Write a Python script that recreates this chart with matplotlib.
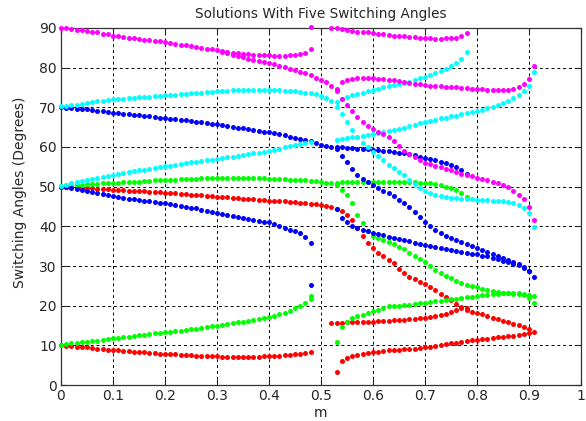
import numpy as np
import matplotlib
matplotlib.use("Agg")
import matplotlib.pyplot as plt

plt.rcParams['font.family'] = ['DejaVu Sans']

STEP = 0.01

# each branch: first m value, then angles (deg) read at every 0.01 of m
red_a_start = 0.00
red_a = [10.0, 9.9, 9.8, 9.7, 9.6, 9.5, 9.3, 9.2, 9.1, 8.9,
         8.8, 8.7, 8.6, 8.5, 8.4, 8.3, 8.2, 8.1, 8.0, 7.9,
         7.8, 7.7, 7.7, 7.6, 7.5, 7.5, 7.4, 7.3, 7.3, 7.2,
         7.2, 7.1, 7.1, 7.1, 7.1, 7.1, 7.1, 7.1, 7.1, 7.2,
         7.2, 7.3, 7.4, 7.5, 7.6, 7.7, 7.8, 8.0, 8.2]
red_b_start = 0.00
red_b = [50.0, 49.9, 49.9, 49.8, 49.7, 49.6, 49.6, 49.5, 49.4, 49.3,
         49.2, 49.2, 49.1, 49.0, 48.9, 48.9, 48.8, 48.7, 48.7, 48.6,
         48.5, 48.4, 48.3, 48.2, 48.1, 48.0, 47.9, 47.8, 47.7, 47.6,
         47.5, 47.4, 47.3, 47.2, 47.1, 47.0, 46.9, 46.8, 46.7, 46.6,
         46.5, 46.4, 46.4, 46.3, 46.2, 46.1, 46.0, 45.8, 45.7, 45.6,
         45.4, 45.2, 44.9, 44.4, 43.8, 42.9, 41.5, 39.6, 37.5, 35.9,
         34.6, 33.3, 32.4, 31.6, 30.7, 29.3, 28.2, 27.3, 26.6, 26.0,
         25.5, 24.8, 23.9, 23.0, 22.2, 21.4, 20.5, 19.7, 19.0, 18.5,
         18.2, 17.8, 17.4, 17.0, 16.6, 16.2, 15.9, 15.5, 15.1, 14.6,
         14.0]
red_c_start = 0.52
red_c = [15.7, 15.7, 15.7, 15.8, 15.8, 15.9, 15.9, 16.0,
         16.0, 16.1, 16.1, 16.2, 16.3, 16.4, 16.5, 16.6, 16.7, 16.8,
         17.0, 17.2, 17.4, 17.7, 18.0, 18.4, 18.8, 19.3, 19.5]
red_d_start = 0.53
red_d = [3.2, 6.1, 6.9, 7.3, 7.6, 7.8, 8.0,
         8.2, 8.4, 8.5, 8.7, 8.8, 8.9, 9.0, 9.1, 9.2, 9.3,
         9.5, 9.7, 9.9, 10.1, 10.3, 10.5, 10.7, 10.9, 11.1, 11.3,
         11.4, 11.6, 11.7, 11.9, 12.0, 12.1, 12.3, 12.4, 12.6, 12.8,
         13.0, 13.3]

green_a_start = 0.00
green_a = [10.2, 10.3, 10.5, 10.6, 10.8, 10.9, 11.1, 11.2, 11.4, 11.6,
           11.8, 11.9, 12.1, 12.2, 12.4, 12.5, 12.7, 12.8, 13.0, 13.1,
           13.3, 13.4, 13.6, 13.7, 13.9, 14.1, 14.2, 14.4, 14.6, 14.8,
           15.0, 15.2, 15.4, 15.6, 15.8, 16.0, 16.2, 16.5, 16.7, 17.0,
           17.2, 17.5, 17.8, 18.1, 18.7, 19.3, 19.9, 20.6, 21.7]
green_b_start = 0.00
green_b = [50.2, 50.3, 50.4, 50.4, 50.5, 50.6, 50.7, 50.7, 50.8, 50.9,
           50.9, 51.0, 51.1, 51.2, 51.3, 51.3, 51.4, 51.5, 51.6, 51.7,
           51.7, 51.8, 51.8, 51.9, 51.9, 52.0, 52.0, 52.1, 52.1, 52.1,
           52.2, 52.2, 52.2, 52.2, 52.2, 52.2, 52.2, 52.2, 52.1, 52.1,
           52.0, 52.0, 51.9, 51.9, 51.8, 51.8, 51.7, 51.6, 51.5, 51.4,
           51.2, 51.0, 50.8, 51.0, 51.2, 51.3, 51.3, 51.3, 51.3, 51.3,
           51.3, 51.3, 51.3, 51.3, 51.3, 51.3, 51.3, 51.2, 51.2, 51.0,
           50.9, 50.8, 50.6, 50.4, 50.0, 49.6, 49.1, 48.4, 47.4]
green_c_start = 0.53
green_c = [50.3, 49.2, 48.0, 45.9, 42.9, 40.8, 38.7,
           37.6, 37.1, 36.6, 36.1, 35.5, 34.9, 34.2, 33.4, 32.6, 31.7,
           30.9, 29.9, 29.0, 28.3, 27.6, 26.9, 26.3, 25.8, 25.3, 24.9,
           24.6, 24.3, 24.0, 23.8, 23.5, 23.3, 23.1, 23.0, 22.9, 22.8,
           22.6, 22.5]
green_d_start = 0.53
green_d = [10.9, 14.7, 16.0, 16.9, 17.3, 17.7, 18.2,
           18.6, 19.0, 19.4, 19.8, 19.9, 20.0, 20.1, 20.2, 20.4, 20.6,
           20.7, 20.9, 21.1, 21.3, 21.4, 21.6, 21.7, 21.9, 22.1, 22.3,
           22.5, 22.7, 22.8, 22.9, 23.0, 23.1, 23.1, 23.1, 23.1, 22.9,
           22.0, 20.6]

blue_a_start = 0.00
blue_a = [70.0, 69.9, 69.8, 69.7, 69.6, 69.5, 69.3, 69.2, 69.0, 68.8,
          68.6, 68.5, 68.4, 68.2, 68.1, 68.0, 67.8, 67.7, 67.5, 67.4,
          67.3, 67.1, 67.0, 66.8, 66.7, 66.5, 66.3, 66.2, 66.0, 65.8,
          65.7, 65.5, 65.3, 65.1, 64.9, 64.7, 64.5, 64.3, 64.1, 63.9,
          63.7, 63.5, 63.2, 62.9, 62.6, 62.3, 62.0, 61.7, 61.4, 61.0,
          60.6, 60.3, 60.1, 60.0, 59.9, 59.8, 59.7, 59.6, 59.5, 59.4,
          59.3, 59.2, 59.1, 58.9, 58.8, 58.6, 58.4, 58.2, 57.9, 57.6,
          57.3, 57.0, 56.7, 56.3, 55.9, 55.5, 55.0, 54.3, 53.3]
blue_b_start = 0.00
blue_b = [50.0, 49.8, 49.6, 49.4, 49.1, 48.9, 48.6, 48.4, 48.1, 47.9,
          47.6, 47.4, 47.2, 47.0, 46.8, 46.7, 46.5, 46.4, 46.2, 46.0,
          45.9, 45.7, 45.5, 45.2, 45.0, 44.7, 44.5, 44.2, 43.9, 43.6,
          43.3, 43.1, 42.9, 42.6, 42.4, 42.1, 41.9, 41.6, 41.4, 41.2,
          41.0, 40.6, 40.2, 39.7, 39.1, 38.7, 38.2, 37.4, 35.9]
blue_c_start = 0.53
blue_c = [59.6, 57.8, 56.2, 54.5, 53.0, 52.0, 51.1,
          50.4, 49.7, 49.0, 48.3, 47.6, 46.7, 45.8, 44.8, 43.6, 42.4,
          41.2, 40.1, 39.2, 38.4, 37.6, 37.0, 36.5, 36.0, 35.5, 35.0,
          34.5, 34.0, 33.6, 33.1, 32.6, 32.1, 31.6, 31.0, 30.4, 29.7,
          28.8]
blue_d_start = 0.53
blue_d = [44.3, 42.2, 41.0, 40.1, 39.6, 39.2, 38.8,
          38.4, 38.1, 37.8, 37.4, 37.1, 36.8, 36.5, 36.2, 35.9, 35.6,
          35.3, 35.1, 34.8, 34.5, 34.3, 34.0, 33.8, 33.5, 33.3, 33.1,
          32.9, 32.6, 32.4, 32.1, 31.7, 31.3, 31.0, 30.6, 30.2, 29.6,
          28.7, 27.3]

cyan_a_start = 0.00
cyan_a = [70.3, 70.4, 70.6, 70.7, 70.9, 71.1, 71.3, 71.5, 71.7, 71.8,
          72.0, 72.1, 72.2, 72.3, 72.4, 72.5, 72.6, 72.7, 72.8, 72.9,
          73.0, 73.1, 73.2, 73.3, 73.4, 73.5, 73.6, 73.7, 73.8, 73.9,
          74.0, 74.1, 74.2, 74.3, 74.3, 74.4, 74.4, 74.4, 74.4, 74.4,
          74.4, 74.3, 74.3, 74.2, 74.1, 74.0, 73.9, 73.7, 73.6, 73.3,
          72.9, 72.4, 71.6, 71.3, 72.1, 72.6, 73.0, 73.4, 73.7, 74.1,
          74.4, 74.7, 75.0, 75.3, 75.6, 75.9, 76.2, 76.5, 76.9, 77.3,
          77.7, 78.1, 78.6, 79.1, 79.7, 80.4, 81.2, 82.3, 83.9]
cyan_b_start = 0.00
cyan_b = [50.2, 50.5, 50.8, 51.1, 51.4, 51.7, 52.0, 52.3, 52.5, 52.8,
          53.0, 53.3, 53.5, 53.7, 53.9, 54.1, 54.3, 54.5, 54.7, 54.9,
          55.1, 55.3, 55.5, 55.7, 55.9, 56.1, 56.3, 56.5, 56.6, 56.8,
          57.0, 57.2, 57.4, 57.6, 57.8, 58.0, 58.2, 58.4, 58.6, 58.8,
          59.0, 59.3, 59.6, 59.9, 60.2, 60.5, 60.7, 61.0, 61.2]
cyan_c_start = 0.53
cyan_c = [61.8, 62.0, 62.2, 62.4, 62.6, 62.8, 63.0,
          63.3, 63.5, 63.7, 64.0, 64.3, 64.6, 64.9, 65.3, 65.6, 66.0,
          66.3, 66.6, 66.9, 67.2, 67.4, 67.7, 67.9, 68.2, 68.5, 68.8,
          69.1, 69.4, 69.8, 70.2, 70.7, 71.1, 71.6, 72.3, 73.2, 74.2,
          75.5, 78.8]
cyan_d_start = 0.53
cyan_d = [70.0, 68.3, 66.2, 64.2, 62.4, 61.0, 59.9,
          58.8, 57.7, 56.6, 55.5, 54.6, 53.8, 52.9, 51.8, 50.6, 49.6,
          48.8, 48.3, 48.0, 47.6, 47.4, 47.2, 47.1, 47.0, 46.9, 46.8,
          46.7, 46.6, 46.6, 46.5, 46.4, 46.3, 46.2, 46.0, 45.5, 44.6,
          43.3, 39.8]

magenta_a_start = 0.00
magenta_a = [90.0, 89.9, 89.7, 89.6, 89.5, 89.3, 89.1, 88.9, 88.6, 88.4,
             88.1, 88.0, 87.8, 87.6, 87.5, 87.3, 87.1, 86.9, 86.8, 86.6,
             86.4, 86.2, 86.0, 85.8, 85.6, 85.4, 85.2, 85.0, 84.8, 84.6,
             84.4, 84.2, 84.0, 83.8, 83.7, 83.5, 83.4, 83.3, 83.2, 83.1,
             83.1, 83.0, 83.0, 83.0, 83.1, 83.2, 83.4, 83.8, 84.6]
magenta_b_start = 0.31
magenta_b = [84.0, 83.6, 83.3, 82.9, 82.6, 82.3, 82.0, 81.8, 81.5,
             81.2, 80.9, 80.5, 80.1, 79.7, 79.3, 79.0, 78.6, 78.1, 77.5,
             76.9, 76.3, 75.4, 74.2, 72.2, 70.7, 69.0, 67.5, 66.4, 65.4,
             64.5, 63.9, 63.3, 62.5, 61.5, 60.3, 59.0, 58.2, 57.4, 56.7,
             56.0, 55.7, 55.3, 54.9, 54.5, 54.1, 53.7, 53.3, 53.0, 52.6,
             52.3, 52.0, 51.6, 51.3, 50.9, 50.4, 49.8, 49.0, 48.0, 47.0,
             45.0, 41.7]
magenta_c_start = 0.53
magenta_c = [74.5, 76.3, 76.9, 77.2, 77.3, 77.3, 77.3,
             77.3, 77.2, 77.1, 77.0, 76.8, 76.6, 76.4, 76.2, 76.0, 75.8,
             75.7, 75.5, 75.4, 75.3, 75.2, 75.1, 75.0, 74.9, 74.8, 74.7,
             74.6, 74.5, 74.4, 74.4, 74.3, 74.3, 74.4, 74.6, 75.1, 76.0,
             77.2, 80.4]
magenta_d_start = 0.52
magenta_d = [90.0, 89.9, 89.7, 89.5, 89.3, 89.1, 89.0, 88.9,
             88.7, 88.6, 88.5, 88.3, 88.1, 88.0, 87.9, 87.8, 87.7, 87.6,
             87.5, 87.4, 87.3, 87.3, 87.4, 87.5, 87.6, 87.9, 88.7]

# loose points at the end of the first solution set (m = 0.48)
extra_m = [0.48, 0.48, 0.48]
extra_deg = [22.4, 25.1, 90.2]
extra_col = ['#00ff00', '#0000ff', '#ff00ff']

xtick_vals = [0, 0.1, 0.2, 0.3, 0.4, 0.5, 0.6, 0.7, 0.8, 0.9, 1]
xtick_labels = ['0', '0.1', '0.2', '0.3', '0.4', '0.5', '0.6', '0.7', '0.8', '0.9', '1']
ytick_vals = [0, 10, 20, 30, 40, 50, 60, 70, 80, 90]

branches = [
    ('#ff0000', red_a_start, red_a), ('#ff0000', red_b_start, red_b),
    ('#ff0000', red_c_start, red_c), ('#ff0000', red_d_start, red_d),
    ('#00ff00', green_a_start, green_a), ('#00ff00', green_b_start, green_b),
    ('#00ff00', green_c_start, green_c), ('#00ff00', green_d_start, green_d),
    ('#0000ff', blue_a_start, blue_a), ('#0000ff', blue_b_start, blue_b),
    ('#0000ff', blue_c_start, blue_c), ('#0000ff', blue_d_start, blue_d),
    ('#00ffff', cyan_a_start, cyan_a), ('#00ffff', cyan_b_start, cyan_b),
    ('#00ffff', cyan_c_start, cyan_c), ('#00ffff', cyan_d_start, cyan_d),
    ('#ff00ff', magenta_a_start, magenta_a), ('#ff00ff', magenta_b_start, magenta_b),
    ('#ff00ff', magenta_c_start, magenta_c), ('#ff00ff', magenta_d_start, magenta_d),
]


def m_axis(start, vals):
    return start + STEP * np.arange(len(vals))


fig = plt.figure(figsize=(5.86, 4.21), dpi=100)
ax = fig.add_axes([0.104, 0.0855, 0.8875, 0.848])

for col, start, vals in branches:
    ax.plot(m_axis(start, vals), vals, 'o', color=col, markersize=3.6,
            markeredgewidth=0, clip_on=False, zorder=3)
for m, d, c in zip(extra_m, extra_deg, extra_col):
    ax.plot([m], [d], 'o', color=c, markersize=3.6, markeredgewidth=0,
            clip_on=False, zorder=3)

ax.set_xlim(0, 1)
ax.set_ylim(0, 90)
ax.set_xticks(xtick_vals)
ax.set_xticklabels(xtick_labels)
ax.set_yticks(ytick_vals)
ax.grid(True, color='black', linestyle=(0, (3, 3)), linewidth=0.7)
ax.set_axisbelow(True)
ax.tick_params(direction='in', length=4, top=True, right=True,
               labelsize=10, colors='#262626', pad=3)
for s in ax.spines.values():
    s.set_color('#333333')
    s.set_linewidth(0.9)

ax.set_title('Solutions With Five Switching Angles', fontsize=9.8, pad=7,
             color='#262626')
ax.set_xlabel('m', fontsize=10, labelpad=2, color='#262626')
ax.set_ylabel('Switching Angles (Degrees)', fontsize=10, color='#262626')
ax.yaxis.set_label_coords(-0.066, 0.54)

plt.savefig('out.png', dpi=100)
